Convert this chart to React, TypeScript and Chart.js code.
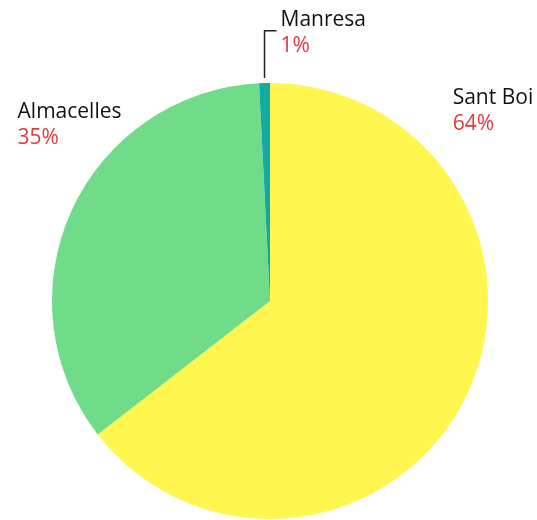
import React, { useEffect, useRef } from "react";
import { Chart, registerables } from "chart.js";

Chart.register(...registerables);

const categories = ["Sant Boi", "Almacelles", "Manresa"];
const values = [64.5, 34.7, 0.8];
const percentLabels = ["64%", "35%", "1%"];
const colors = ["#fff650", "#70dc8a", "#12aaa0"];

const FONT = "21px 'Open Sans'";

const labelPlugin = {
  id: "sliceLabels",
  afterDraw(chart: any) {
    const meta = chart.getDatasetMeta(0);
    const ctx = chart.ctx;
    const arc0 = meta.data[0];
    const cx = arc0.x;
    const cy = arc0.y;
    const r = arc0.outerRadius;
    ctx.save();
    ctx.font = FONT;
    ctx.textAlign = "left";
    ctx.textBaseline = "alphabetic";
    const lh = 26;
    const drawLabel = (i: number, x: number, y: number) => {
      ctx.fillStyle = "#111";
      ctx.fillText(categories[i], x, y);
      ctx.fillStyle = "#e0393e";
      ctx.fillText(percentLabels[i], x, y + lh);
    };
    // Sant Boi
    drawLabel(0, cx + 0.838 * r, cy - 0.904 * r);
    // Almacelles
    drawLabel(1, cx - 1.158 * r, cy - 0.84 * r);
    // Manresa with leader line
    const a = meta.data[2];
    const mid = (a.startAngle + a.endAngle) / 2;
    const px = cx + Math.cos(mid) * r;
    const py = cy + Math.sin(mid) * r - 5;
    const ly = cy - 1.24 * r;
    ctx.strokeStyle = "#222";
    ctx.lineWidth = 1.5;
    ctx.beginPath();
    ctx.moveTo(px, py);
    ctx.lineTo(px, ly);
    ctx.lineTo(px + 12, ly);
    ctx.stroke();
    drawLabel(2, px + 16, ly - 5);
    ctx.restore();
  },
};

export default function App() {
  const ref = useRef<HTMLCanvasElement>(null);
  useEffect(() => {
    if (!ref.current) return;
    const chart = new Chart(ref.current, {
      type: "pie",
      data: {
        labels: categories,
        datasets: [
          {
            data: values,
            backgroundColor: colors,
            borderWidth: 0,
          },
        ],
      },
      options: {
        animation: false,
        responsive: false,
        layout: { padding: { left: 52, right: 49, top: 83, bottom: 1 } },
        plugins: {
          legend: { display: false },
          tooltip: { enabled: false },
        },
      },
      plugins: [labelPlugin],
    });
    return () => chart.destroy();
  }, []);
  return (
    <div style={{ position: "absolute", left: 0, top: 0, width: 537, height: 520, background: "#fff" }}>
      <canvas ref={ref} width={537} height={520} style={{ width: 537, height: 520 }} />
    </div>
  );
}
